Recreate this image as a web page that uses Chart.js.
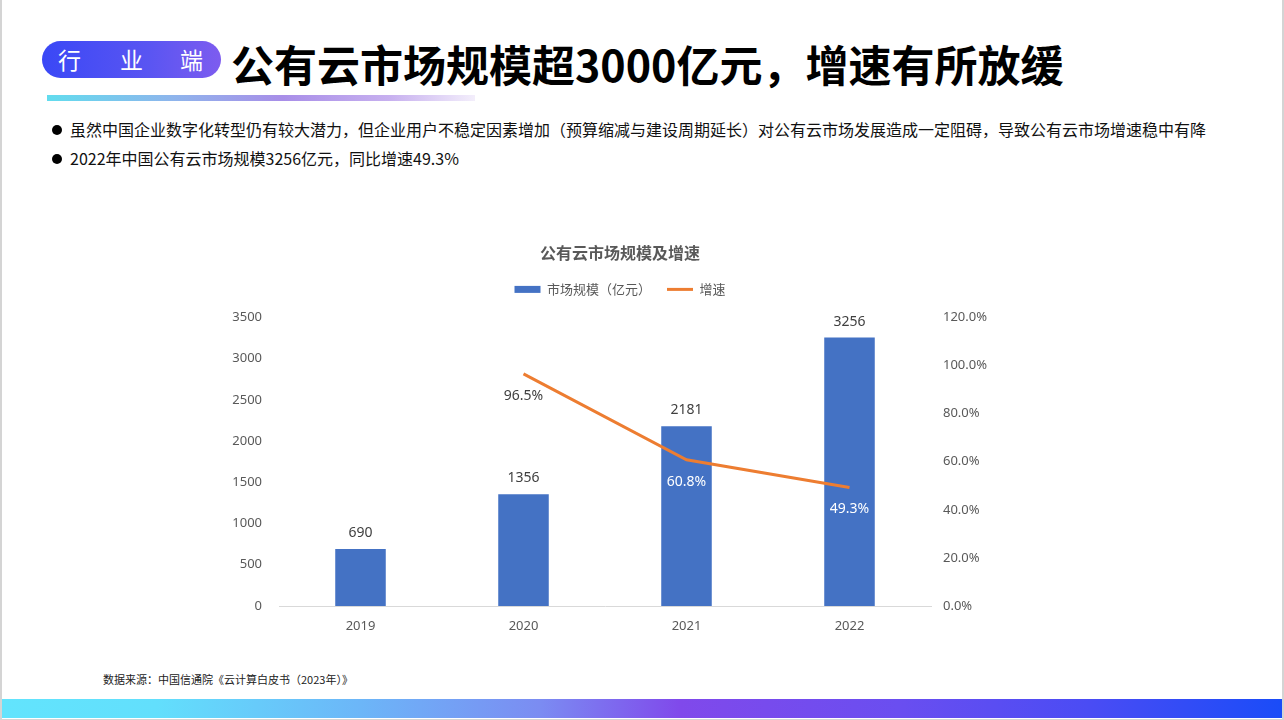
<!DOCTYPE html>
<html>
<head>
<meta charset="utf-8">
<script src="https://cdn.jsdelivr.net/npm/chart.js@4.4.1/dist/chart.umd.min.js"></script>
<style>
  html, body { margin: 0; padding: 0; background: #fff; }
  body { width: 1284px; height: 720px; position: relative; overflow: hidden; font-family: "Noto Sans CJK SC", "Noto Sans", sans-serif; }
  .frame { position: absolute; left: 0; top: 0; width: 1280px; height: 719px; border-left: 2px solid #d4d4d4; border-right: 2px solid #d4d4d4; border-bottom: 1px solid #d4d4d4; }
  .pill { position: absolute; left: 42px; top: 41px; width: 179px; height: 37px; border-radius: 19px;
          background: linear-gradient(90deg, #3a48f6 0%, #5a55f2 60%, #7d5cef 100%);
          color: #fff; font-size: 23px; line-height: 37px; }
  .pill span { position: absolute; top: 0; }
  .title { position: absolute; left: 231px; top: 32px; font-size: 43px; font-weight: 700; color: #000; white-space: nowrap; }
  .uline { position: absolute; left: 47px; top: 95px; width: 428px; height: 6px;
           background: linear-gradient(90deg, #62dcee 0%, #8fb4ec 30%, #a88ee8 55%, #c7b0ef 80%, #f3eefb 100%); }
  .bullet { position: absolute; left: 52px; font-size: 16px; color: #111; white-space: nowrap; }
  .bullet .dot { display: inline-block; width: 10px; height: 10px; border-radius: 50%; background: #000; margin-right: 8px; vertical-align: 1px; }
  .src { position: absolute; left: 103px; top: 671px; font-size: 11px; color: #222; white-space: nowrap; }
  .bar { position: absolute; left: 2px; top: 699px; width: 1280px; height: 19px;
         background: linear-gradient(90deg, #62e4fd 0%, #62dffc 12%, #6cb6f8 28%, #7b8cf2 42%, #8049eb 53%, #6a4ef0 70%, #4a4cf4 85%, #1a4cf8 100%); }
  #wrap { position: absolute; left: 200px; top: 230px; width: 840px; height: 420px; }
</style>
</head>
<body>
<div class="frame"></div>
<div class="pill"><span style="left:16px">行</span><span style="left:78px">业</span><span style="left:138px">端</span></div>
<div class="title">公有云市场规模超3000亿元，增速有所放缓</div>
<div class="uline"></div>
<div class="bullet" style="top:117px"><span class="dot"></span>虽然中国企业数字化转型仍有较大潜力，但企业用户不稳定因素增加（预算缩减与建设周期延长）对公有云市场发展造成一定阻碍，导致公有云市场增速稳中有降</div>
<div class="bullet" style="top:146px"><span class="dot"></span>2022年中国公有云市场规模3256亿元，同比增速49.3%</div>
<div id="wrap"><canvas id="c"></canvas></div>
<div class="src">数据来源：中国信通院《云计算白皮书（2023年）》</div>
<div class="bar"></div>
<script>
const categories = ["2019", "2020", "2021", "2022"];
const marketSize = [690, 1356, 2181, 3256];
const growthRate = [null, 96.5, 60.8, 49.3];
const leftTicks = [0, 500, 1000, 1500, 2000, 2500, 3000, 3500];
const rightTicks = [0, 20, 40, 60, 80, 100, 120];
const growthLabelColors = ["#404040", "#404040", "#ffffff", "#ffffff"];

const FONT = '"Noto Sans", "Noto Sans CJK SC", sans-serif';
const GREY = "#595959";

const labelPlugin = {
  id: "valueLabels",
  afterDatasetsDraw(chart) {
    const ctx = chart.ctx;
    ctx.save();
    ctx.font = "14px " + FONT;
    ctx.textAlign = "center";
    ctx.textBaseline = "middle";
    const barMeta = chart.getDatasetMeta(0);
    barMeta.data.forEach((el, i) => {
      ctx.fillStyle = "#404040";
      ctx.fillText(String(marketSize[i]), el.x, el.y - 16);
    });
    const lineMeta = chart.getDatasetMeta(1);
    lineMeta.data.forEach((el, i) => {
      if (growthRate[i] == null) return;
      ctx.fillStyle = growthLabelColors[i];
      ctx.fillText(growthRate[i].toFixed(1) + "%", el.x, el.y + 22);
    });
    ctx.restore();
  }
};

// empty layout box between the legend and the plot area
const spacerPlugin = {
  id: "spacer",
  beforeInit(chart) {
    const box = {
      position: "top", weight: 500, fullSize: true, options: {},
      top: 0, left: 0, right: 0, bottom: 0, width: 0, height: 0,
      update(maxWidth) { this.width = maxWidth; this.height = 11.5; },
      isHorizontal() { return true; },
      draw() {}
    };
    Chart.layouts.addBox(chart, box);
  }
};

new Chart(document.getElementById("c"), {
  data: {
    labels: categories,
    datasets: [
      {
        type: "bar",
        label: "市场规模（亿元）",
        data: marketSize,
        backgroundColor: "#4472C4",
        borderWidth: 0,
        yAxisID: "y",
        barPercentage: 0.31,
        categoryPercentage: 1.0,
        order: 2
      },
      {
        type: "line",
        label: "增速",
        data: growthRate,
        borderColor: "#ED7D31",
        backgroundColor: "#ED7D31",
        borderWidth: 3,
        pointRadius: 0,
        tension: 0,
        yAxisID: "y1",
        order: 1
      }
    ]
  },
  options: {
    responsive: true,
    maintainAspectRatio: false,
    animation: false,
    layout: { padding: 0 },
    plugins: {
      tooltip: { enabled: false },
      title: {
        display: true,
        text: "公有云市场规模及增速",
        color: GREY,
        font: { family: '"Noto Sans CJK SC", sans-serif', size: 16, weight: "bold" },
        padding: { top: 13.4, bottom: 4.3 }
      },
      legend: {
        display: true,
        labels: {
          color: GREY,
          font: { family: '"Noto Sans CJK SC", sans-serif', size: 13 },
          usePointStyle: true,
          pointStyleWidth: 26,
          boxHeight: 7,
          padding: 16,
          sort: (a, b) => a.datasetIndex - b.datasetIndex,
          generateLabels(chart) {
            const items = Chart.defaults.plugins.legend.labels.generateLabels(chart);
            items.forEach(it => {
              if (it.datasetIndex === 0) {
                it.pointStyle = "rect"; it.lineWidth = 0; it.fillStyle = "#4472C4";
              } else {
                it.pointStyle = "line"; it.lineWidth = 3; it.strokeStyle = "#ED7D31";
              }
            });
            return items;
          }
        }
      }
    },
    scales: {
      x: {
        grid: { display: false, drawTicks: false },
        border: { display: true, color: "#d9d9d9", width: 1 },
        ticks: { color: GREY, font: { family: FONT, size: 13 }, padding: 12 },
        afterFit(s) { s.height = 44; }
      },
      y: {
        position: "left",
        min: 0, max: 3500,
        grid: { display: false, drawTicks: false },
        border: { display: false },
        afterBuildTicks(s) { s.ticks = leftTicks.map(v => ({ value: v })); },
        ticks: { color: GREY, font: { family: FONT, size: 13 }, padding: 17,
                 callback: v => String(v) },
        afterFit(s) { s.width = 79; }
      },
      y1: {
        position: "right",
        min: 0, max: 120,
        grid: { display: false, drawTicks: false },
        border: { display: false },
        afterBuildTicks(s) { s.ticks = rightTicks.map(v => ({ value: v })); },
        ticks: { color: GREY, font: { family: FONT, size: 13 }, padding: 12,
                 callback: v => Number(v).toFixed(1) + "%" },
        afterFit(s) { s.width = 109; }
      }
    }
  },
  plugins: [labelPlugin, spacerPlugin]
});
</script>
</body>
</html>
